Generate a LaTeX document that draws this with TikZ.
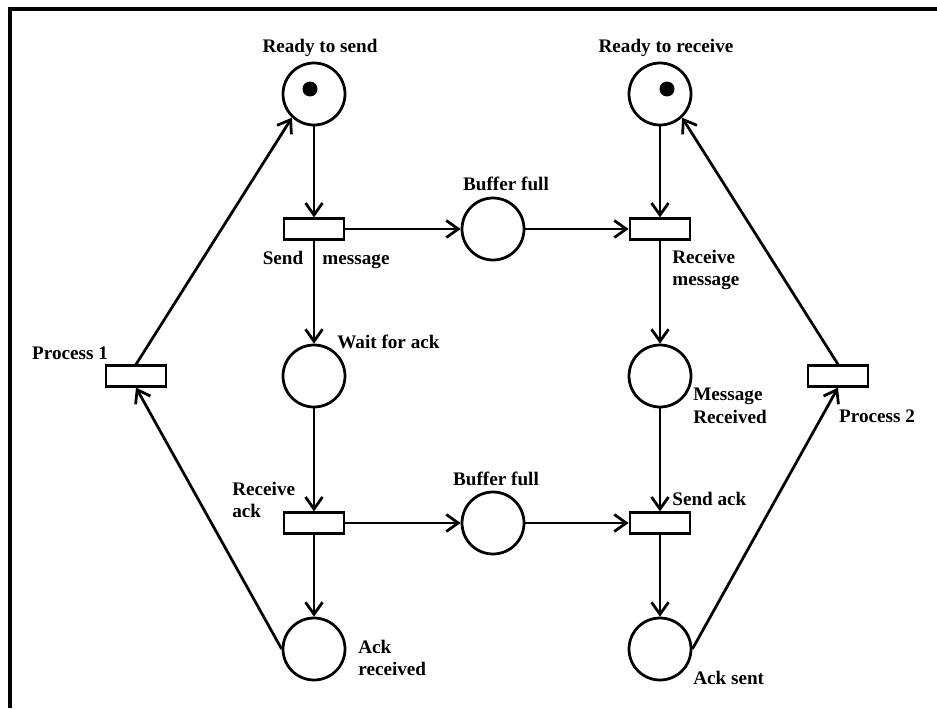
\documentclass[tikz,border=0pt]{standalone}
\usepackage{fontspec}
\setmainfont{Liberation Serif}
\usetikzlibrary{arrows.meta}
\tikzset{>={Straight Barb[length=2.4mm,width=3.4mm]}}
\tikzstyle{place}=[draw,circle,line width=0.55mm,minimum size=12.4mm,inner sep=0pt]
\tikzstyle{transition}=[draw,rectangle,fill=white,line width=0.55mm,minimum width=12mm,minimum height=4.1mm,inner sep=0pt]
\tikzstyle{arc}=[->,line width=0.55mm]
\tikzstyle{lbl}=[font=\fontsize{10.9}{13}\selectfont\bfseries,align=left,inner sep=0pt]

\begin{document}
\begin{tikzpicture}
    \useasboundingbox (0,0) rectangle (18.74,14.16);
    \draw[line width=0.65mm] (0.2,0) -- (0.2,13.98) -- (18.74,13.98);

    % places
    \node[place] (rsend) at (6.28,12.28) {};
    \node[place] (rrecv) at (13.2,12.28) {};
    \node[place] (buf1) at (9.86,9.58) {};
    \node[place] (wait) at (6.28,6.64) {};
    \node[place] (msgrec) at (13.2,6.64) {};
    \node[place] (buf2) at (9.86,3.70) {};
    \node[place] (ackrec) at (6.28,1.18) {};
    \node[place] (acksent) at (13.2,1.18) {};
    \fill (6.2,12.38) circle (0.15);
    \fill (13.34,12.38) circle (0.15);

    % transitions
    \node[transition] (sendmsg) at (6.28,9.58) {};
    \node[transition] (recvmsg) at (13.2,9.58) {};
    \node[transition] (proc1) at (2.72,6.64) {};
    \node[transition] (proc2) at (16.76,6.64) {};
    \node[transition] (recvack) at (6.28,3.70) {};
    \node[transition] (sendack) at (13.2,3.70) {};

    % arcs
    \draw[arc] (rsend) -- (sendmsg);
    \draw[arc] (sendmsg) -- (buf1);
    \draw[arc] (buf1) -- (recvmsg);
    \draw[arc] (rrecv) -- (recvmsg);
    \draw[arc] (sendmsg) -- (wait);
    \draw[arc] (recvmsg) -- (msgrec);
    \draw[arc] (wait) -- (recvack);
    \draw[arc] (msgrec) -- (sendack);
    \draw[arc] (recvack) -- (buf2);
    \draw[arc] (buf2) -- (sendack);
    \draw[arc] (recvack) -- (ackrec);
    \draw[arc] (sendack) -- (acksent);
    \draw[arc] (ackrec.west) -- (proc1.south);
    \draw[arc] (proc1.north) -- (rsend.227);
    \draw[arc] (acksent.east) -- (proc2.south);
    \draw[arc] (proc2.north) -- (rrecv.-47);

    % labels
    \node[lbl] (lrsend) at (6.4,13.2) {Ready to send};
    \node[lbl] (lrrecv) at (13.32,13.2) {Ready to receive};
    \node[lbl] (lbuf1) at (10.12,10.48) {Buffer full};
    \node[lbl] (lbuf2) at (9.92,4.58) {Buffer full};
    \node[lbl,anchor=base] (lsend) at (5.66,8.88) {Send};
    \node[lbl,anchor=base] (lmsg) at (7.12,8.88) {message};
    \node[lbl,anchor=west] (lrecvmsg) at (13.44,8.76) {Receive\\message};
    \node[lbl,anchor=west] (lwait) at (6.74,7.32) {Wait for ack};
    \node[lbl] (lproc1) at (1.4,7.1) {Process 1};
    \node[lbl,anchor=west] (lrecvack) at (4.64,4.16) {Receive\\ack};
    \node[lbl,anchor=west] (lackrec) at (7.16,1.0) {Ack\\received};
    \node[lbl,anchor=west] (lmsgrec) at (13.86,6.04) {Message\\Received};
    \node[lbl] (lproc2) at (17.54,5.84) {Process 2};
    \node[lbl,anchor=west] (lsendack) at (13.44,4.18) {Send ack};
    \node[lbl,anchor=west] (lacksent) at (13.86,0.6) {Ack sent};
\end{tikzpicture}
\end{document}
